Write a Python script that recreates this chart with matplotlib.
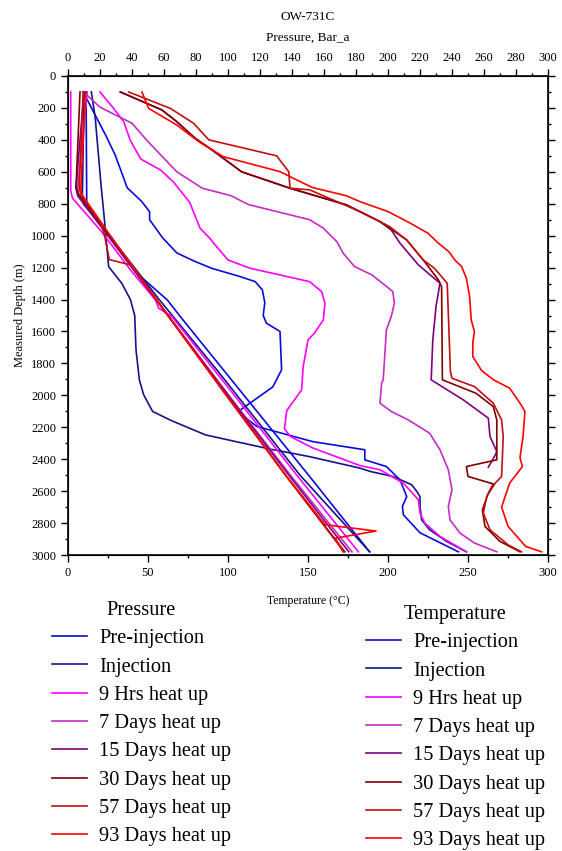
import matplotlib.pyplot as plt
from matplotlib.ticker import MultipleLocator

plt.rcParams['font.family'] = ['Liberation Serif', 'DejaVu Serif']

labels = ['Pre-injection', 'Injection', '9 Hrs heat up', '7 Days heat up',
          '15 Days heat up', '30 Days heat up', '57 Days heat up', '93 Days heat up']
colors = ['#0a0adc', '#14148c', '#ff00ff', '#c62cc6',
          '#800080', '#800000', '#c01010', '#ff0000']

# temperature profiles (deg C vs measured depth m)
t_pre = [9.5, 17, 23.5, 29.5, 37, 46, 51, 51, 59, 68, 79, 90, 107.5, 117, 121.5, 123, 122, 124,
         132.5, 133.5, 128, 114, 106.5, 111, 118, 153, 185.5, 185.5, 199, 207.5, 211.7, 209,
         209.6, 220, 232.5, 244]
d_pre = [100, 245, 370, 495, 700, 785, 850, 900, 1012, 1108, 1160, 1205, 1256, 1288, 1340, 1420, 1500, 1548,
         1600, 1840, 1947, 2047, 2100, 2140, 2195, 2290, 2341, 2404, 2446, 2529, 2634, 2696,
         2748, 2861, 2923, 2980]

t_inj = [14.6, 17, 20.8, 22.3, 25.4, 33.7, 39, 41.7, 42.5, 44.6, 47.3, 52.9, 65, 86, 105, 126, 151,
         182.5, 189, 203, 214.8, 218, 220, 220, 221, 226, 236.7, 249]
d_inj = [100, 260, 700, 850, 1194, 1300, 1400, 1500, 1715, 1903, 1997, 2101, 2160, 2248, 2290, 2336, 2384,
         2456, 2477, 2508, 2560, 2602, 2634, 2696, 2780, 2842, 2915, 2980]

t_h9 = [20, 28.5, 34.8, 39, 45.5, 58, 66, 76, 82.5, 89, 91, 100, 113.75, 132.5, 151, 158.5, 160.6,
        159.6, 154, 150, 147, 146, 136.7, 135.3, 139, 153, 170, 182.5, 195, 209.6, 219, 220,
        223, 232.5, 249]
d_h9 = [100, 203, 286, 405, 520, 590, 665, 790, 953, 1020, 1047, 1152, 1204, 1246, 1288, 1350, 1423,
        1527, 1611, 1653, 1820, 1966, 2096, 2210, 2258, 2330, 2393, 2440, 2466, 2550, 2654, 2738,
        2800, 2884, 2980]

t_d7 = [9.6, 20, 40, 49, 68, 84, 102, 112.7, 151, 159.6, 168, 172, 179, 190, 203, 204, 202, 199,
        197, 196, 195, 202, 212.7, 226, 232.5, 237.7, 240, 237.7, 238.75, 245, 254, 268]
d_d7 = [100, 195, 296, 400, 600, 703, 750, 805, 900, 953, 1037, 1110, 1193, 1246, 1350, 1423, 1507, 1590,
        1903, 1924, 2049, 2101, 2154, 2237, 2341, 2466, 2592, 2696, 2780, 2863, 2925, 2980]

t_d15 = [32.7, 58.75, 68, 79.6, 90, 108.5, 138.75, 174, 195, 202, 207.5, 219, 232.5, 230, 228, 227,
         247, 262.7, 263.75, 268, 266, 262.7]
d_d15 = [100, 213, 286, 391, 463, 600, 703, 807, 912, 964, 1047, 1183, 1298, 1444, 1653, 1903,
         2028, 2143, 2258, 2352, 2393, 2450]

t_d30 = [32.7, 58.75, 68, 79.6, 90, 108.5, 138.75, 174, 195, 211.7, 222, 231.5, 233.5, 234, 255,
         265.8, 268, 268, 249, 250, 265.8, 262.7, 259, 260.6, 270, 282.5]
d_d30 = [100, 213, 286, 391, 463, 600, 703, 807, 912, 1027, 1152, 1277, 1319, 1903, 1987,
         2070, 2154, 2404, 2446, 2508, 2555, 2613, 2717, 2821, 2915, 2980]

t_d57 = [37.9, 64, 78.5, 88, 130.4, 138, 138.75, 151, 182.5, 201, 211.7, 222, 229, 237, 237.7, 239,
         240, 254, 265.8, 271, 272, 271, 267, 261.7, 259.6, 263.75, 275, 283.5]
d_d57 = [100, 203, 296, 400, 500, 600, 703, 713, 849, 943, 1027, 1152, 1204, 1298, 1486, 1850,
         1893, 1945, 2049, 2154, 2258, 2508, 2550, 2633, 2738, 2842, 2936, 2980]

t_d93 = [46.2, 50.4, 68, 81.7, 97, 132.5, 145, 153, 174, 182.5, 200, 214, 225, 231.5, 238, 242, 246,
         249, 251, 252, 254, 253, 253, 258.5, 266, 276, 282.5, 285.6, 284.4, 282.5, 284, 276, 271,
         275, 286, 296]
d_d93 = [100, 203, 307, 411, 505, 599, 661, 699, 750, 787, 849, 922, 985, 1047, 1100, 1155, 1193,
         1267, 1381, 1527, 1600, 1673, 1757, 1845, 1903, 1955, 2049, 2101, 2258, 2390, 2446, 2550, 2700,
         2820, 2946, 2980]

# pressure profiles (bar_a vs measured depth m)
p_pre = [11.3, 11.7, 26, 43, 62, 71, 110, 151, 188.5]
pd_pre = [100, 800, 1000, 1235, 1402, 1517, 2000, 2508, 2980]

p_inj = [10, 9, 9.5, 26, 57, 93, 145, 188.5]
pd_inj = [100, 750, 800, 1000, 1400, 1840, 2500, 2980]

p_h9 = [1.7, 1.7, 2.8, 21, 39, 54.6, 56.7, 65, 104, 143, 181.5]
pd_h9 = [100, 720, 765, 975, 1214, 1402, 1454, 1507, 2000, 2500, 2980]

p_d7 = [12, 6, 6.5, 25, 62.5, 100.5, 139, 177.5]
pd_d7 = [100, 700, 750, 1000, 1500, 2000, 2500, 2980]

p_d15 = [10, 5, 6, 25, 62.5, 100, 138, 175.5]
pd_d15 = [100, 700, 750, 1000, 1500, 2000, 2500, 2980]

p_d30 = [7.5, 5, 7, 26, 62.5, 99, 136, 173]
pd_d30 = [100, 700, 745, 1000, 1500, 2000, 2500, 2980]

p_d57 = [9.5, 7, 8, 20.5, 23, 25.8, 39.8, 62.5, 99, 136, 172.5]
pd_d57 = [100, 700, 740, 920, 1005, 1150, 1185, 1500, 2000, 2500, 2980]

p_d93 = [11, 8, 8.8, 26.5, 62.5, 99, 136, 160.6, 192.5, 167, 172]
pd_d93 = [100, 700, 745, 1000, 1500, 2000, 2500, 2810, 2850, 2895, 2980]

temps = [(t_pre, d_pre), (t_inj, d_inj), (t_h9, d_h9), (t_d7, d_d7),
         (t_d15, d_d15), (t_d30, d_d30), (t_d57, d_d57), (t_d93, d_d93)]
press = [(p_pre, pd_pre), (p_inj, pd_inj), (p_h9, pd_h9), (p_d7, pd_d7),
         (p_d15, pd_d15), (p_d30, pd_d30), (p_d57, pd_d57), (p_d93, pd_d93)]

fig = plt.figure(figsize=(5.62, 8.51), dpi=100)
ax = fig.add_axes([68 / 562, 1 - 555 / 851, 480 / 562, 479 / 851])
axp = ax.twiny()

t_handles = []
for (x, d), c, lab in zip(temps, colors, labels):
    h, = ax.plot(x, d, color=c, lw=1.2, label=lab)
    t_handles.append(h)
p_handles = []
for (x, d), c, lab in zip(press, colors, labels):
    h, = axp.plot(x, d, color=c, lw=1.2, label=lab)
    p_handles.append(h)

ax.set_xlim(0, 300)
axp.set_xlim(0, 300)
ax.set_ylim(3000, 0)

ax.xaxis.set_major_locator(MultipleLocator(50))
ax.xaxis.set_minor_locator(MultipleLocator(25))
ax.yaxis.set_major_locator(MultipleLocator(200))
ax.yaxis.set_minor_locator(MultipleLocator(100))
axp.xaxis.set_major_locator(MultipleLocator(20))
axp.xaxis.set_minor_locator(MultipleLocator(10))

for a in (ax, axp):
    a.tick_params(which='both', direction='out', labelsize=9, width=1)
    a.tick_params(which='major', length=5)
    a.tick_params(which='minor', length=2.5)
ax.tick_params(axis='y', which='both', right=True)
for s in ax.spines.values():
    s.set_linewidth(1.2)

ax.set_xlabel('Temperature (°C)', fontsize=8.5, labelpad=12)
ax.set_ylabel('Measured Depth (m)', fontsize=9, labelpad=4)
axp.set_xlabel('Pressure, Bar_a', fontsize=9.5, labelpad=8)
fig.text(308 / 562, 1 - 17 / 851, 'OW-731C', ha='center', va='center', fontsize=9.5)

leg_kw = dict(loc='upper left', frameon=False, fontsize=14.7, title_fontsize=14.7,
              handlelength=1.7, handletextpad=0.6, labelspacing=0.44,
              borderpad=0, borderaxespad=0)
fig.legend(p_handles, labels, title='Pressure', bbox_to_anchor=(52 / 562, 1 - 601 / 851), **leg_kw)
fig.legend(t_handles, labels, title='Temperature', bbox_to_anchor=(366 / 562, 1 - 605 / 851), **leg_kw)

fig.savefig('out.png', dpi=100)
